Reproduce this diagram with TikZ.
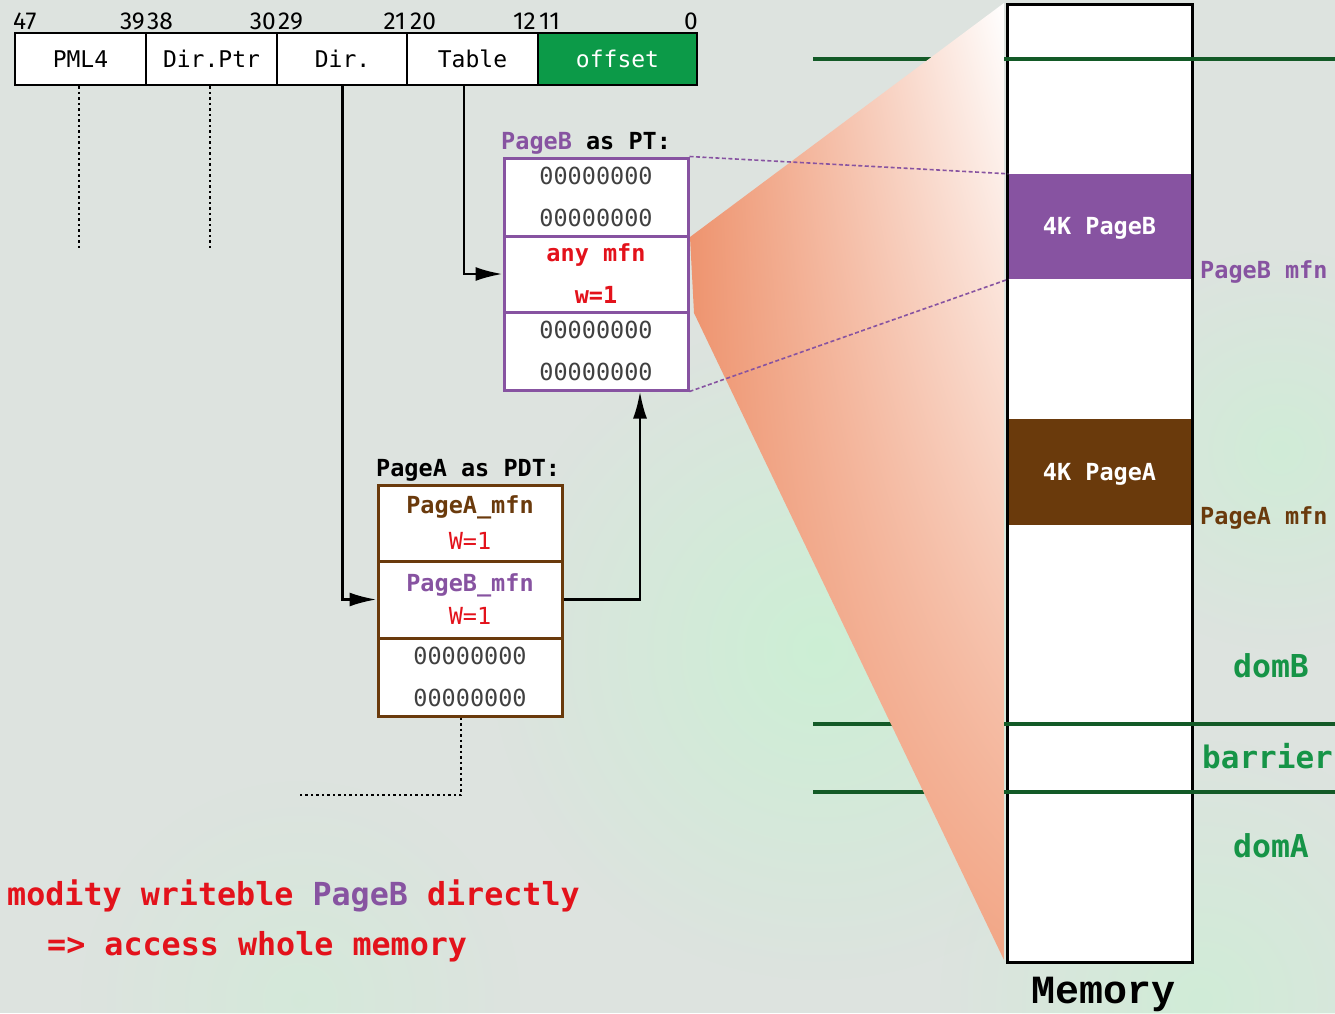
\documentclass[tikz,border=0pt]{standalone}
\usepackage{fontspec}
\setmonofont{DejaVu Sans Mono}
\newfontfamily\memfont{Liberation Mono}
\newfontfamily\bitfont{Fira Sans}
\usetikzlibrary{arrows.meta,fadings,shadings}

\definecolor{bgc}{HTML}{DDE3DF}
\definecolor{glowc}{HTML}{C8F2D2}
\definecolor{pbc}{HTML}{8753A1}
\definecolor{pac}{HTML}{6A3A0C}
\definecolor{redc}{HTML}{E3121B}
\definecolor{offc}{HTML}{0C9A48}
\definecolor{glinec}{HTML}{135A27}
\definecolor{domc}{HTML}{169447}
\definecolor{zeroc}{HTML}{404040}
\definecolor{funnelA}{HTML}{EE946F}
\definecolor{funnelB}{HTML}{F2A686}

\tikzfading[name=softglow, inner color=transparent!0, outer color=transparent!100]

\newcommand\zrow{\textcolor{zeroc}{00000000}}

\begin{document}
\begin{tikzpicture}[x=1pt,y=-1pt,
  field/.style={draw=black, line width=2.5pt, fill=white, minimum width=131pt,
    minimum height=52pt, inner sep=0, font=\ttfamily\fontsize{23}{26}\selectfont},
  bitlbl/.style={inner sep=0, font=\bitfont\fontsize{24.5}{26}\selectfont},
  row/.style={line width=3pt, fill=white, minimum width=184pt, inner sep=0, align=center},
  pbrow/.style={row, draw=pbc, font=\ttfamily\fontsize{23.5}{42}\selectfont},
  parow/.style={row, draw=pac},
  title/.style={inner sep=0, anchor=base west, font=\ttfamily\bfseries\fontsize{23.5}{28}\selectfont},
  blk/.style={minimum width=182pt, inner sep=0, text=white, text height=17pt, text depth=1pt,
    font=\ttfamily\bfseries\fontsize{23.5}{28}\selectfont},
  memlbl/.style={inner sep=0, anchor=base west, font=\ttfamily\bfseries\fontsize{23.5}{28}\selectfont},
  domlbl/.style={inner sep=0, anchor=base, text=domc, font=\ttfamily\bfseries\fontsize{31.5}{36}\selectfont},
  note/.style={inner sep=0, anchor=base west, text=redc, font=\ttfamily\bfseries\fontsize{31.7}{36}\selectfont},
  conn/.style={line width=2.5pt, -{Latex[length=27pt,width=14pt]}},
  dotline/.style={line width=2pt, dash pattern=on 2.5pt off 3pt},
  linkline/.style={pbc, line width=1.6pt, dash pattern=on 4pt off 2.5pt},
  gline/.style={glinec, line width=4pt}
]
\useasboundingbox (0,0) rectangle (1335,1013);
\fill[bgc] (0,0) rectangle (1335,1013);

% soft green glow in the background
\fill[glowc, opacity=0.8, path fading=softglow] (820,650) circle (330);
\fill[glowc, opacity=0.6, path fading=softglow] (1280,450) circle (200);
\fill[glowc, opacity=0.6, path fading=softglow] (1200,1000) circle (260);
\fill[glowc, opacity=0.4, path fading=softglow] (300,1000) circle (220);

% ---- virtual address layout ----
\node[field] (pml4) at (80.5,59) {PML4};
\node[field] (dptr) at (211.5,59) {Dir.Ptr};
\node[field] (dir) at (342.5,59) {Dir.};
\node[field] (table) at (472.5,59) {Table};
\node[field, fill=offc, text=white, minimum width=159pt] (off) at (617.5,59) {offset};

\node[bitlbl, anchor=base west] (b47) at (13,29) {47};
\node[bitlbl, anchor=base east] (b39) at (145,29) {39};
\node[bitlbl, anchor=base west] (b38) at (147,29) {38};
\node[bitlbl, anchor=base east] (b30) at (276,29) {30};
\node[bitlbl, anchor=base west] (b29) at (278,29) {29};
\node[bitlbl, anchor=base east] (b21) at (406,29) {21};
\node[bitlbl, anchor=base west] (b20) at (410,29) {20};
\node[bitlbl, anchor=base east] (b12) at (536,29) {12};
\node[bitlbl, anchor=base west] (b11) at (539,29) {11};
\node[bitlbl, anchor=base east] (b0) at (698,29) {0};

% ---- physical memory ----
\node[draw=black, line width=3pt, fill=white, minimum width=185pt, minimum height=958pt, inner sep=0] (mem) at (1099.5,483) {};
\node[blk, fill=pbc, minimum height=105pt] (blkB) at (1099.5,226.5) {4K PageB};
\node[blk, fill=pac, minimum height=106pt] (blkA) at (1099.5,472) {4K PageA};

\draw[gline] (813,59) -- (1335,59);
\draw[gline] (813,724) -- (1335,724);
\draw[gline] (813,792) -- (1335,792);

% zoom funnel from the page table to memory
\shade[upper right=white, upper left=funnelA, lower left=funnelA, lower right=funnelB]
  (690,237) -- (1004,3) -- (1004,960) -- (694,313) -- cycle;

\node[memlbl, text=pbc] (mfnB) at (1200,278) {PageB mfn};
\node[memlbl, text=pac] (mfnA) at (1200,524) {PageA mfn};
\node[domlbl] (domB) at (1271,677) {domB};
\node[domlbl, anchor=base west, font=\ttfamily\bfseries\fontsize{31}{36}\selectfont] (barrier) at (1202,768) {barrier};
\node[domlbl] (domA) at (1271,857) {domA};
\node[inner sep=0, anchor=base, font=\memfont\bfseries\fontsize{40}{44}\selectfont] (memname) at (1103,1003) {Memory};

% ---- PageB used as page table ----
\node[title] (pbt) at (501,149) {\textcolor{pbc}{PageB} as PT:};
\node[pbrow, minimum height=78pt] (pb1) at (596,197) {\zrow\\\zrow};
\node[pbrow, minimum height=76pt, text=redc, font=\ttfamily\bfseries\fontsize{23.5}{42}\selectfont] (pb2) at (596,274) {any mfn\\w=1};
\node[pbrow, minimum height=78pt] (pb3) at (596,351) {\zrow\\\zrow};

\draw[linkline] (pb1.north east) -- (blkB.north west);
\draw[linkline] (pb3.south east) -- (blkB.south west);

% ---- PageA used as page directory ----
\node[title] (pat) at (376,476) {PageA as PDT:};
\node[parow, minimum height=76pt, font=\ttfamily\fontsize{23.5}{36}\selectfont] (pa1) at (470,523)
  {\textcolor{pac}{\bfseries PageA\_mfn}\\\textcolor{redc}{W=1}};
\node[parow, minimum height=77pt, font=\ttfamily\fontsize{23.5}{33}\selectfont] (pa2) at (470,599.5)
  {\textcolor{pbc}{\bfseries PageB\_mfn}\\\textcolor{redc}{W=1}};
\node[parow, minimum height=78pt, font=\ttfamily\fontsize{23.5}{42}\selectfont] (pa3) at (470,677) {\zrow\\\zrow};

% ---- walk connectors ----
\draw[conn] (dir.south) |- (pa2.west);
\draw[conn] ([xshift=-8.5pt]table.south) |- (pb2.west);
\draw[conn] (pa2.east) -| ([xshift=44pt]pb3.south);

\coordinate (pmlend) at (79,250);
\coordinate (dptrend) at (210,250);
\coordinate (upend) at (298,795);
\draw[dotline] (pml4.south -| pmlend) -- (pmlend);
\draw[dotline] (dptr.south -| dptrend) -- (dptrend);
\draw[dotline] ([xshift=-9pt]pa3.south) |- (upend);

% ---- note ----
\node[note] (note1) at (7,905) {modity writeble \textcolor{pbc}{PageB} directly};
\node[note] (note2) at (47,955) {=> access whole memory};
\end{tikzpicture}
\end{document}
